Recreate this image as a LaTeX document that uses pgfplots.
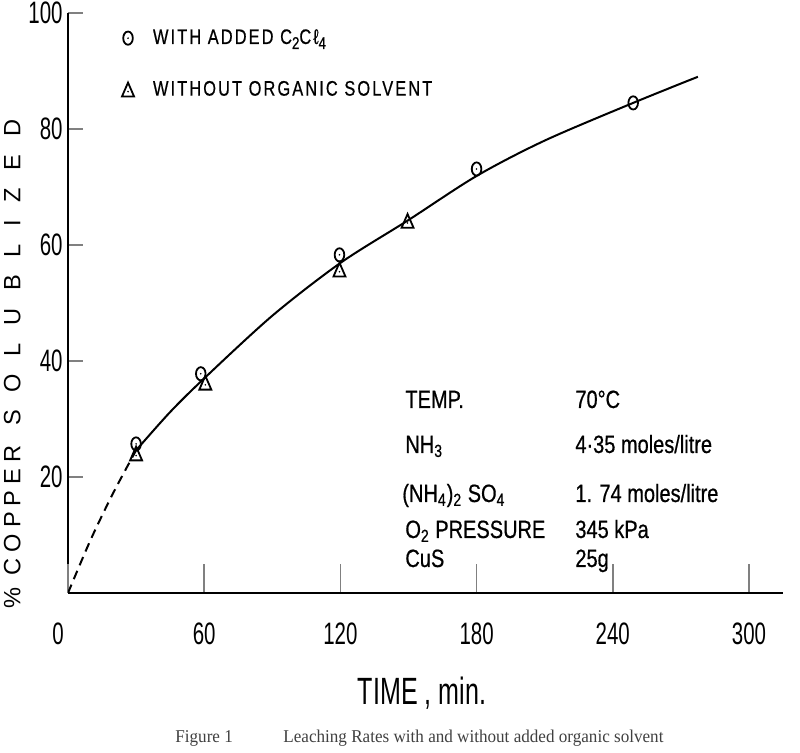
\documentclass[border=0pt]{standalone}
\usepackage{fontspec}
\setmainfont{Liberation Sans}
\newfontfamily\tickfont{Liberation Sans}[FakeStretch=0.66]
\newfontfamily\condfont{Liberation Sans}[FakeStretch=0.8,FakeBold=0.6]
\newfontfamily\legfont{Liberation Sans}[FakeStretch=0.78,LetterSpace=10,FakeBold=0.6]
\newfontfamily\ylabA{Liberation Sans}[LetterSpace=25]
\newfontfamily\ylabB{Liberation Sans}[LetterSpace=75]
\newfontfamily\capfont{Liberation Serif}[FakeStretch=0.95]
\usepackage{pgfplots}
\pgfplotsset{compat=1.18}

% hand-drawn style markers: dotted ellipse and dotted triangle
\pgfdeclareplotmark{dotcirc}{%
  \pgfpathellipse{\pgfpointorigin}{\pgfqpoint{2.4pt}{0pt}}{\pgfqpoint{0pt}{3.3pt}}%
  \pgfusepathqstroke
  \pgfpathcircle{\pgfpointorigin}{0.45pt}\pgfusepathqfill}
\pgfdeclareplotmark{dottri}{%
  \pgfpathmoveto{\pgfqpoint{-3pt}{-3.3pt}}%
  \pgfpathlineto{\pgfqpoint{3pt}{-3.3pt}}%
  \pgfpathlineto{\pgfqpoint{0pt}{3.6pt}}%
  \pgfpathclose
  \pgfusepathqstroke
  \pgfpathcircle{\pgfqpoint{0pt}{-0.9pt}}{0.45pt}\pgfusepathqfill}

\newcommand{\sub}[1]{\raisebox{-0.45ex}{\fontsize{8.5}{9}\selectfont #1}}

\begin{document}
\begin{tikzpicture}
\path[use as bounding box] (0,0) rectangle (400pt,376.5pt);
\begin{axis}[
  at={(34pt,80pt)}, anchor=south west,
  scale only axis, width=357.5pt, height=290pt,
  xmin=0, xmax=315, ymin=0, ymax=100,
  axis lines=left,
  axis line style={line width=1.25pt,-},
  tick align=inside,
  xtick={60,120,180,240,300},
  extra x ticks={0},
  extra x tick style={xticklabel style={xshift=-5pt}},
  ytick={20,40,60,80,100},
  xtick style={line width=0.8pt,/pgfplots/major tick length=14.5pt},
  ytick style={line width=0.8pt,/pgfplots/major tick length=7.5pt},
  /pgf/number format/assume math mode=true,
  xticklabel style={font=\tickfont\fontsize{15.5}{16}\selectfont,
    anchor=north, inner sep=0pt, yshift=-14.5pt},
  yticklabel style={font=\tickfont\fontsize{15.5}{16}\selectfont,
    anchor=east, inner sep=0pt, xshift=-2.5pt},
  xlabel={TIME , min.},
  xlabel style={font=\tickfont\fontsize{19}{20}\selectfont,
    at={(axis description cs:0.495,-0.193)}, anchor=base, inner sep=0pt},
  ylabel={{\ylabA \%\hspace{6pt}COPPER}\hspace{10pt}{\ylabB SOLUBLIZED}},
  ylabel style={font=\fontsize{11.8}{12}\selectfont,
    at={(axis description cs:-0.078,0.395)}, anchor=center, inner sep=0pt},
  legend style={draw=none, fill=none, at={(axis description cs:0.075,0.976)},
    anchor=north west, inner sep=0pt, row sep=15pt,
    font=\legfont\fontsize{10.5}{11}\selectfont,
    nodes={inner sep=1pt},
    /tikz/every odd column/.append style={column sep=8.5pt}},
  legend cell align=left,
]
% fitted curve: dashed extrapolation to origin, solid through data
\addplot[forget plot, line width=1pt, dash pattern=on 4.5pt off 3pt, smooth]
  coordinates {(0,0) (10,9.2) (20,17.3) (30,24.6)};
\addplot[forget plot, line width=1pt, smooth, tension=0.5]
  coordinates {(30,24.6) (45,31.2) (60,37) (90,47.8) (120,56.9) (150,64.3)
               (180,71.9) (210,78) (249,84.5) (277.5,89)};
% with added C2Cl4
\addplot[only marks, mark=dotcirc, mark options={line width=0.9pt}]
  coordinates {(30,25.7) (58.5,37.8) (119.6,58.3) (180,73.1) (249,84.5)};
\addlegendentry{WITH ADDED C\sub{2}Cℓ\sub{4}}
% without organic solvent
\addplot[only marks, mark=dottri, mark options={line width=0.9pt}]
  coordinates {(30,24) (60.5,36.2) (119.6,55.7) (149.6,64.1)};
\addlegendentry{WITHOUT ORGANIC SOLVENT}
\end{axis}

\begin{scope}[x=0.5pt, y=-0.5pt, yshift=376.5pt,
  every node/.style={anchor=base west, inner sep=0pt,
    font=\condfont\fontsize{12.5}{13}\selectfont}]
  \node at (405,408) {TEMP.};
  \node at (575,408) {70°C};
  \node at (405,453) {NH\textsubscript{3}};
  \node at (575,453) {4·35 moles/litre};
  \node at (402,502) {(NH\textsubscript{4})\textsubscript{2} SO\textsubscript{4}};
  \node at (575,502) {1. 74 moles/litre};
  \node at (405,538) {O\textsubscript{2} PRESSURE};
  \node at (575,538) {345 kPa};
  \node at (405,567) {CuS};
  \node at (575,567) {25g};
  \node[font=\capfont\fontsize{9}{9}\selectfont, text=black!75] at (175,743) {Figure 1};
  \node[font=\capfont\fontsize{9}{9}\selectfont, text=black!75] at (283,743)
    {Leaching Rates with and without added organic solvent};
\end{scope}
\end{tikzpicture}
\end{document}
